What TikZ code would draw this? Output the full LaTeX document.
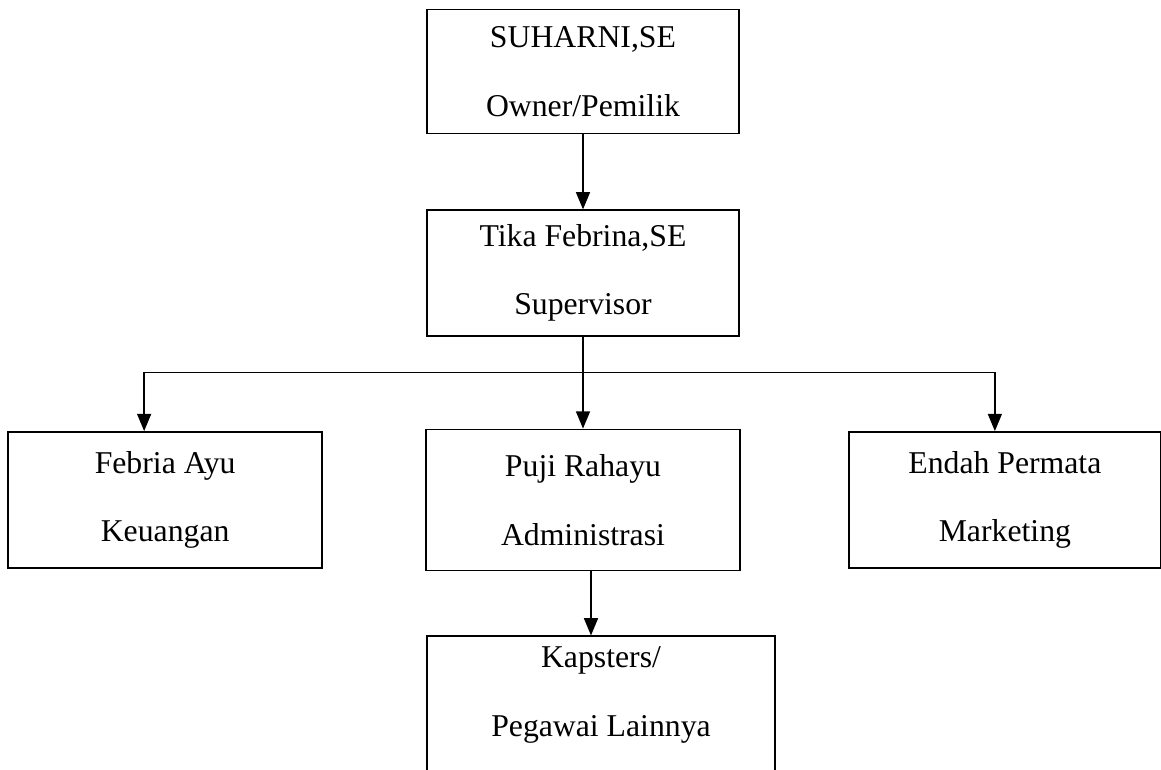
\documentclass[tikz,border=0pt]{standalone}
\usepackage{fontspec}
\setmainfont{Liberation Serif}
\usepackage{tikz}
\usetikzlibrary{arrows.meta, positioning, calc}

\begin{document}
\begin{tikzpicture}[
  box/.style = {draw, line width=1.4pt, minimum width=234pt, minimum height=93pt, align=center,
    font=\fontsize{23.8}{51.5}\selectfont},
  arrow/.style = {line width=1.3pt, -{Triangle[length=13pt, width=10.5pt]}}
]
  \useasboundingbox (0,0) rectangle (870.75pt,-577.5pt);

  % Top of the chart
  \node[box] (owner) at (437.25pt,-53.6pt) {SUHARNI,SE\\Owner/Pemilik};
  \node[box, below=56.25pt of owner, minimum height=94pt] (super) {Tika Febrina,SE\\Supervisor};

  % Three staff blocks
  \node[box, below=69pt of super, minimum width=235.5pt, minimum height=105.75pt] (adm) {Puji Rahayu\\Administrasi};
  \node[box, left=76.5pt of adm, minimum width=235.5pt, minimum height=102pt] (keu) {Febria Ayu\\Keuangan};
  \node[box, right=80.25pt of adm, minimum height=102pt] (mkt) {Endah Permata\\Marketing};

  % Bottom block (runs off the page)
  \node[box, below=48pt of adm, xshift=13.5pt, minimum width=261pt, minimum height=150pt] (kap) {Kapsters/\\Pegawai Lainnya\\\strut};

  % Arrows
  \draw[arrow] (owner.south) -- (super.north);
  \draw[arrow] (super.south) -- (adm.north);
  \coordinate[below=27pt of super.south] (bus);
  \draw[arrow] (bus) -| ([xshift=-15.75pt]keu.north);
  \draw[arrow] (bus) -| ([xshift=-7.5pt]mkt.north);
  \draw[arrow] ([xshift=6pt]adm.south) -- ([xshift=6pt]adm.south |- kap.north);

\end{tikzpicture}
\end{document}
